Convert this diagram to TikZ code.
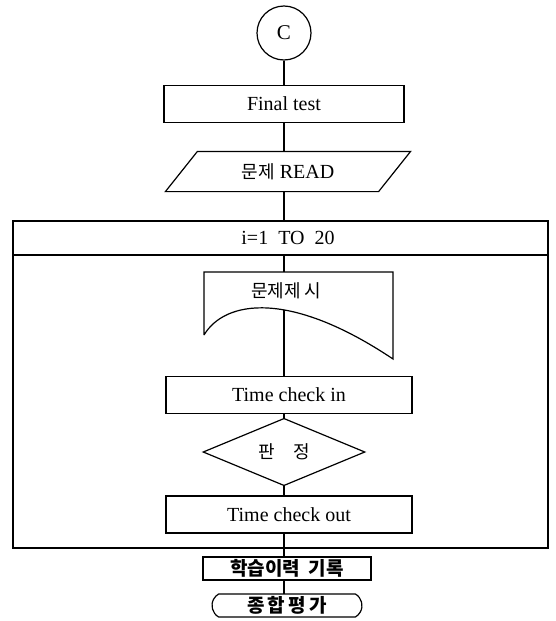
\documentclass[tikz,border=0pt]{standalone}
\usepackage{fontspec}
\setmainfont{Liberation Serif}
\newfontfamily\kr{Noto Sans CJK KR}
\usetikzlibrary{shapes.geometric,shapes.misc}

\begin{document}
\begin{tikzpicture}[x=1pt,y=-1pt,line width=1.2pt,
  box/.style={draw,rectangle,inner sep=0pt,minimum height=37pt,font=\fontsize{20}{22}\selectfont},
  krtext/.style={inner sep=0pt,font=\fontsize{18}{20}\kr\selectfont}]
\useasboundingbox (0,0) rectangle (555,621);
\node[draw,circle,minimum size=54pt,inner sep=0pt,font=\fontsize{21}{24}\selectfont] (circ) at (284,33) {C};
\node[box,minimum width=240pt] (final) at (284,104) {Final test};
%% input
\node[minimum width=212pt,minimum height=39pt,inner sep=0pt,font=\fontsize{20}{22}\selectfont] (read) at (288,171.5) {{\kr\fontsize{18}{20}\selectfont 문제}\ READ};
\draw ([xshift=-16pt]read.south west) -- ([xshift=16pt]read.north west) -- ([xshift=16pt]read.north east) -- ([xshift=-16pt]read.south east) -- cycle;
%% loop
\draw (13,221) rectangle (548,548);
\draw (13,255) -- (548,255);
\node[font=\fontsize{20}{22}\selectfont] (loop) at (288,238) {i=1\ \ TO\ \ 20};
\coordinate (hdr) at (284,255);
%% display
\draw (204,335) -- (204,272) -- (393,272) -- (393,359) .. controls (290,290) and (225,300) .. (204,335);
\node[krtext] (show) at (286,291) {문제제\,시};
\coordinate (showtop) at (284,272);
\coordinate (showout) at (284,309.7);
\node[box,minimum width=246pt] (tin) at (289,395) {Time check in};
\node[draw,diamond,minimum width=162pt,minimum height=44pt,inner sep=0pt,krtext] (judge) at (284,452) {판\quad 정};
\node[box,minimum width=246pt] (tout) at (289,514.5) {Time check out};
\coordinate (boxend) at (284,548);
%% after loop
\node[draw,minimum width=168pt,minimum height=23pt,inner sep=0pt,font=\fontsize{19}{20}\kr\bfseries\selectfont] (record) at (287,568.5) {학습이력\ \ 기록};
\node[draw,rounded rectangle,rounded rectangle arc length=120,minimum width=150pt,minimum height=23pt,inner sep=0pt,font=\fontsize{19}{20}\kr\bfseries\selectfont] (total) at (287,605.5) {종\,합\,평\,가};
%% flow line
\draw (circ.south) -- (284,86);
\draw (284,122) -- (284,152);
\draw (284,191) -- (284,221);
\draw (hdr) -- (showtop);
\draw (showout) -- (284,376.5);
\draw (284,413.5) -- (judge.north);
\draw (judge.south) -- (284,496);
\draw (284,533) -- (284,557);
\draw (284,580) -- (284,594);
\end{tikzpicture}
\end{document}
